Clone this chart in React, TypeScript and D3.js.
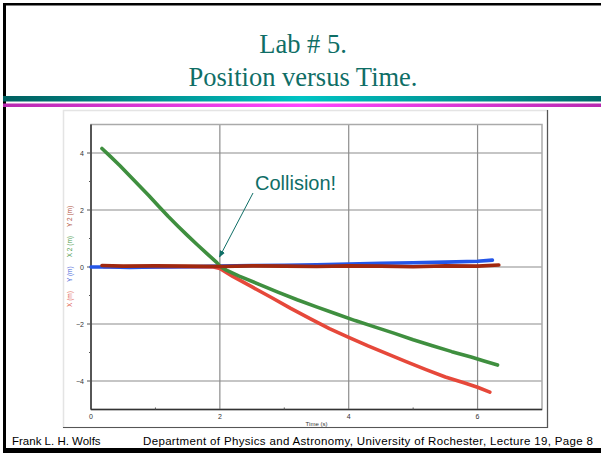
import React from 'react'
import * as d3 from 'd3'

// slide + chart "Lab # 5. Position versus Time."
const xTicks = [0, 2, 4, 6]
const xMinor = [1, 3, 5]
const yTicks = [-4, -2, 0, 2, 4]
const yMinor = [-3, -1, 1, 3]

// X (m) – red cart, at rest then pushed back
const redT = [0.2, 0.6, 1.0, 1.4, 1.9, 2.0, 2.2, 2.5, 2.8, 3.1, 3.4, 3.7, 4.0, 4.3, 4.6, 4.9, 5.2, 5.5, 5.8, 6.0, 6.19]
const redX = [0.01, 0.0, 0.0, 0.01, 0.0, -0.05, -0.33, -0.7, -1.07, -1.45, -1.81, -2.16, -2.47, -2.77, -3.05, -3.33, -3.6, -3.86, -4.07, -4.22, -4.39]

// X 2 (m) – green cart
const greenT = [0.17, 0.3, 0.45, 0.6, 0.75, 0.9, 1.05, 1.2, 1.35, 1.5, 1.65, 1.8, 1.95, 2.0, 2.1, 2.3, 2.6, 2.9, 3.2, 3.5, 3.8, 4.1, 4.4, 4.7, 5.0, 5.3, 5.6, 5.9, 6.1, 6.31]
const greenX = [4.16, 3.88, 3.55, 3.2, 2.85, 2.5, 2.13, 1.77, 1.43, 1.1, 0.78, 0.47, 0.16, 0.03, -0.11, -0.32, -0.6, -0.88, -1.15, -1.4, -1.64, -1.88, -2.1, -2.32, -2.55, -2.76, -2.97, -3.16, -3.3, -3.44]

// Y (m) – blue
const blueT = [0.0, 0.3, 0.6, 1.0, 1.5, 2.0, 2.5, 3.0, 3.5, 4.0, 4.5, 5.0, 5.5, 6.0, 6.23]
const blueY = [0.0, 0.0, -0.02, 0.0, 0.01, 0.03, 0.05, 0.06, 0.08, 0.1, 0.13, 0.15, 0.17, 0.2, 0.24]

// Y 2 (m) – dark red
const brownT = [0.17, 0.5, 1.0, 1.5, 2.0, 2.5, 3.0, 3.5, 4.0, 4.5, 5.0, 5.5, 6.0, 6.33]
const brownY = [0.05, 0.03, 0.04, 0.03, 0.02, 0.04, 0.03, 0.02, 0.04, 0.03, 0.01, 0.04, 0.03, 0.07]

const teal = '#0f6e66'

const App = () => {
  const W = 601
  const H = 453
  const x = d3.scaleLinear().domain([0, 7]).range([91, 542])
  const y = d3.scaleLinear().domain([-5, 5]).range([409.5, 124.5])
  const line = d3
    .line<[number, number]>()
    .x((d) => x(d[0]))
    .y((d) => y(d[1]))

  const series = [
    { t: redT, v: redX, color: '#e6483a' },
    { t: blueT, v: blueY, color: '#2456e8' },
    { t: greenT, v: greenX, color: '#3f8f3f' },
    { t: brownT, v: brownY, color: '#a1280f' },
  ]

  const labels = [
    { text: 'X (m)', color: '#e05a50' },
    { text: 'Y (m)', color: '#4a66d8' },
    { text: 'X 2 (m)', color: '#4d9a4d' },
    { text: 'Y 2 (m)', color: '#b0503e' },
  ]

  return (
    <svg
      width={W}
      height={H}
      style={{ position: 'absolute', left: 0, top: 0, background: '#fff' }}
    >
      <defs>
        <linearGradient id="tealBar" x1="0" x2="1" y1="0" y2="0">
          <stop offset="0" stopColor="#005f5f" />
          <stop offset="0.5" stopColor="#00c4c4" />
          <stop offset="1" stopColor="#006868" />
        </linearGradient>
        <linearGradient id="pinkBar" x1="0" x2="1" y1="0" y2="0">
          <stop offset="0" stopColor="#b82ab0" />
          <stop offset="0.5" stopColor="#ff44ff" />
          <stop offset="1" stopColor="#b82ab0" />
        </linearGradient>
        <marker id="arrow" viewBox="0 0 10 10" refX="9" refY="5" markerWidth="7" markerHeight="7" orient="auto">
          <path d="M0,1 L10,5 L0,9 z" fill={teal} />
        </marker>
      </defs>

      {/* slide frame */}
      <rect x={0} y={0} width={W} height={H} fill="#fff" />
      <rect x={3} y={3} width={W - 3} height={2.5} fill="#000" />
      <rect x={3} y={3} width={3} height={H - 3} fill="#000" />
      <rect x={3} y={448} width={W - 3} height={5} fill="#000" />

      {/* title */}
      <g fill={teal} fontFamily="'Liberation Serif', 'DejaVu Serif', serif" fontSize={26.5} textAnchor="middle">
        <text x={303} y={53}>Lab # 5.</text>
        <text x={303} y={86}>Position versus Time.</text>
      </g>
      <rect x={3} y={96} width={W - 3} height={5.5} fill="url(#tealBar)" />
      <rect x={3} y={103.5} width={W - 3} height={3.5} fill="url(#pinkBar)" />

      {/* chart panel */}
      <rect x={63.5} y={110.5} width={484} height={317} fill="#fff" stroke="#e4e4e4" strokeWidth={1.5} />
      <line x1={547.5} x2={547.5} y1={110} y2={428} stroke="#555" strokeWidth={1.2} />
      <line x1={63} x2={548} y1={427.5} y2={427.5} stroke="#555" strokeWidth={1.2} />

      {/* grid */}
      <g stroke="#8c8c8c" strokeWidth={1.2}>
        {xTicks.filter((t) => t > 0).map((t) => (
          <line key={'gx' + t} x1={x(t)} x2={x(t)} y1={y(5)} y2={y(-5)} />
        ))}
        {yTicks.map((t) => (
          <line key={'gy' + t} x1={x(0)} x2={x(7)} y1={y(t)} y2={y(t)} />
        ))}
      </g>
      <rect x={x(0)} y={y(5)} width={x(7) - x(0)} height={y(-5) - y(5)} fill="none" stroke="#aaa" strokeWidth={1.5} />
      <line x1={x(0)} x2={x(0)} y1={y(5)} y2={y(-5)} stroke="#333" strokeWidth={1.5} />
      <line x1={x(0)} x2={x(7)} y1={y(-5)} y2={y(-5)} stroke="#333" strokeWidth={1.5} />

      {/* ticks */}
      <g stroke="#555" strokeWidth={1}>
        {yTicks.map((t) => (
          <line key={'ty' + t} x1={x(0) - 4} x2={x(0)} y1={y(t)} y2={y(t)} />
        ))}
        {yMinor.map((t) => (
          <line key={'my' + t} x1={x(0) - 2} x2={x(0)} y1={y(t)} y2={y(t)} />
        ))}
        {xMinor.map((t) => (
          <line key={'mx' + t} x1={x(t)} x2={x(t)} y1={y(-5)} y2={y(-5) - 2} />
        ))}
      </g>
      <g fontFamily="'Liberation Sans', Arial, sans-serif" fontSize={7} fill="#333">
        {yTicks.map((t) => (
          <text key={'ly' + t} x={x(0) - 7} y={y(t) + 2.5} textAnchor="end">
            {t < 0 ? '\u2212' + Math.abs(t) : t}
          </text>
        ))}
        {xTicks.map((t) => (
          <text key={'lx' + t} x={x(t)} y={419} textAnchor="middle">
            {t}
          </text>
        ))}
        <text x={(x(0) + x(7)) / 2} y={426} textAnchor="middle" fontSize={6}>
          Time (s)
        </text>
      </g>
      <text
        transform="translate(72,307) rotate(-90)"
        fontFamily="'Liberation Sans', Arial, sans-serif"
        fontSize={6.5}
      >
        {labels.map((l, i) => (
          <tspan key={l.text} fill={l.color} dx={i === 0 ? 0 : 9}>
            {l.text}
          </tspan>
        ))}
      </text>

      {/* data */}
      <g fill="none" strokeWidth={3.6} strokeLinejoin="round" strokeLinecap="round">
        {series.map((s, i) => (
          <path
            key={i}
            d={line(s.t.map((t, j) => [t, s.v[j]] as [number, number])) || ''}
            stroke={s.color}
          />
        ))}
      </g>

      {/* annotation */}
      <line x1={253} y1={193} x2={219.5} y2={257} stroke={teal} strokeWidth={1} markerEnd="url(#arrow)" />
      <text x={255} y={190} fill={teal} fontFamily="'Liberation Sans', Arial, sans-serif" fontSize={20}>
        Collision!
      </text>

      {/* footer */}
      <g fontFamily="'Liberation Sans', Arial, sans-serif" fontSize={11.5} fill="#000">
        <text x={12} y={445}>Frank L. H. Wolfs</text>
        <text x={143} y={445} textLength={450}>
          Department of Physics and Astronomy, University of Rochester, Lecture 19, Page 8
        </text>
      </g>
    </svg>
  )
}

export default App
